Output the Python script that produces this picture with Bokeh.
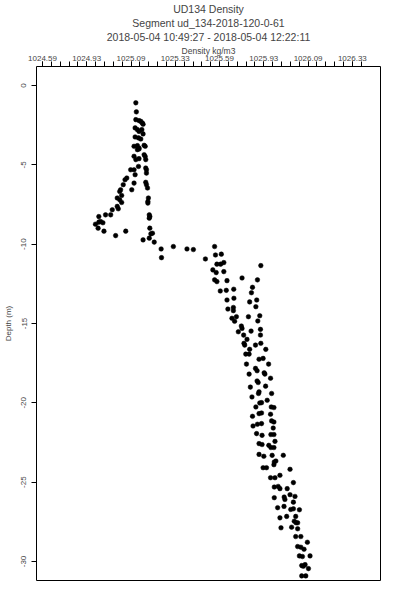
from bokeh.plotting import figure
from bokeh.models import ColumnDataSource, Range1d, FixedTicker, Title
from bokeh.embed import file_html
from bokeh.resources import INLINE

title_lines = ["UD134 Density", "Segment ud_134-2018-120-0-61",
               "2018-05-04 10:49:27 - 2018-05-04 12:22:11"]
x_label = "Density kg/m3"
y_label = "Depth (m)"

x_ticks = [1024.59, 1024.84, 1025.09, 1025.34, 1025.59, 1025.84, 1026.09, 1026.34]
x_tick_labels = ["1024.59", "1024.93", "1025.09", "1025.33", "1025.59", "1025.93", "1026.09", "1026.33"]
x_minor_ticks = [round(1024.59 + 0.05 * k, 2) for k in range(37)]
y_ticks = [0, -5, -10, -15, -20, -25, -30]
y_tick_labels = ["0", "-5", "-10", "-15", "-20", "-25", "-30"]

density = [
    1025.117, 1025.120, 1025.117, 1025.135, 1025.145, 1025.154, 1025.158, 1025.113, 1025.126, 1025.151,
    1025.135, 1025.158, 1025.113, 1025.132, 1025.145, 1025.107, 1025.126, 1025.135, 1025.164, 1025.170,
    1025.126, 1025.135, 1025.107, 1025.117, 1025.135, 1025.164, 1025.170, 1025.173, 1025.132, 1025.107,
    1025.088, 1025.173, 1025.177, 1025.177, 1025.113, 1025.066, 1025.056, 1025.046, 1025.107, 1025.173,
    1025.177, 1025.183, 1025.031, 1025.026, 1025.094, 1025.037, 1025.012, 1025.026, 1025.037, 1025.188,
    1025.185, 1025.185, 1025.012, 1025.018, 1024.984, 1024.946, 1024.975, 1024.908, 1025.193, 1025.196,
    1025.193, 1024.918, 1024.908, 1024.931, 1024.889, 1024.904, 1024.937, 1025.196, 1025.211, 1025.202,
    1025.003, 1025.060, 1025.158, 1025.193, 1025.221, 1025.260, 1025.329, 1025.406, 1025.442, 1025.262,
    1025.562, 1025.567, 1025.600, 1025.510,
    1025.575, 1025.596, 1025.614, 1025.552, 1025.571, 1025.614, 1025.823, 1025.562, 1025.575, 1025.632,
    1025.717, 1025.804, 1025.594, 1025.628, 1025.670, 1025.776, 1025.770, 1025.632, 1025.671, 1025.760,
    1025.800, 1025.637, 1025.668, 1025.668, 1025.795, 1025.817, 1025.660, 1025.685, 1025.753, 1025.675,
    1025.806, 1025.713, 1025.717, 1025.696, 1025.768, 1025.821, 1025.821, 1025.726, 1025.745, 1025.728,
    1025.732, 1025.793, 1025.823, 1025.760, 1025.851, 1025.738, 1025.757, 1025.813, 1025.836, 1025.742,
    1025.793, 1025.802, 1025.867, 1025.757, 1025.842, 1025.846, 1025.878, 1025.802, 1025.808, 1025.764,
    1025.850, 1025.813, 1025.810, 1025.884, 1025.773, 1025.859, 1025.817, 1025.827, 1025.795, 1025.882,
    1025.897, 1025.813, 1025.827, 1025.776, 1025.878, 1025.884, 1025.897, 1025.779, 1025.804, 1025.827,
    1025.893, 1025.799, 1025.830, 1025.880, 1025.897, 1025.813, 1025.830, 1025.868, 1025.880, 1025.897,
    1025.903,
    1025.813, 1025.840, 1025.887, 1025.950, 1025.899, 1025.908, 1025.897, 1025.836, 1025.855, 1025.988,
    1025.878, 1025.903, 1025.931, 1026.007, 1025.899, 1025.921, 1025.931, 1025.972, 1025.988, 1026.016,
    1025.955, 1025.959, 1025.899, 1026.007, 1025.918, 1025.954, 1025.992, 1026.007, 1026.041, 1025.969,
    1026.020, 1025.931, 1026.012, 1026.022, 1026.031, 1025.997, 1025.937, 1026.031, 1026.020, 1026.049,
    1026.086, 1026.031, 1026.049, 1026.067, 1026.041, 1026.058, 1026.101, 1026.054, 1026.073, 1026.092,
    1026.063, 1026.054, 1026.077,
]
depth = [
    -1.09, -1.66, -2.15, -2.21, -2.26, -2.36, -2.44, -2.67, -2.78, -2.78,
    -2.89, -3.05, -3.24, -3.30, -3.37, -3.83, -3.79, -3.94, -3.77, -3.83,
    -4.04, -4.00, -4.46, -4.67, -4.61, -4.36, -4.47, -4.67, -5.10, -5.31,
    -5.31, -5.20, -5.31, -5.52, -5.62, -5.83, -5.94, -6.25, -6.15, -6.10,
    -6.25, -6.46, -6.57, -6.68, -6.57, -6.93, -7.09, -7.20, -7.37, -7.09,
    -7.31, -7.41, -7.62, -7.77, -7.83, -8.15, -8.15, -8.26, -8.15, -8.26,
    -8.36, -8.57, -8.61, -8.65, -8.74, -8.99, -9.18, -8.99, -9.31, -9.35,
    -9.46, -9.18, -9.73, -9.62, -9.87, -10.30, -10.15, -10.30, -10.34, -10.85,
    -10.15, -10.68, -10.63, -10.93,
    -11.26, -11.26, -11.16, -11.62, -11.79, -11.73, -11.35, -12.25, -12.36, -12.30,
    -12.13, -12.25, -12.95, -12.91, -12.84, -12.72, -13.06, -13.52, -13.41, -13.64,
    -13.52, -14.09, -13.99, -14.19, -13.94, -14.51, -14.67, -14.57, -14.57, -14.86,
    -14.84, -15.16, -15.31, -15.52, -15.48, -15.37, -15.73, -15.73, -16.00, -16.25,
    -16.36, -16.36, -16.25, -16.63, -16.63, -16.93, -16.93, -17.25, -17.20, -17.56,
    -17.83, -17.98, -17.56, -18.19, -18.11, -18.19, -18.45, -18.62, -18.72, -19.01,
    -18.95, -19.31, -19.41, -19.41, -19.63, -19.84, -20.01, -19.99, -20.26, -20.26,
    -20.30, -20.68, -20.64, -20.85, -20.72, -21.14, -21.21, -21.46, -21.35, -21.31,
    -21.59, -21.94, -22.05, -22.00, -22.00, -22.57, -22.63, -22.68, -22.82, -22.82,
    -22.43,
    -23.25, -23.37, -23.31, -23.31, -23.73, -23.67, -23.90, -24.09, -24.09, -24.19,
    -24.72, -24.72, -24.57, -25.03, -25.31, -25.27, -25.41, -25.41, -25.79, -25.90,
    -25.94, -26.09, -25.98, -26.26, -26.61, -26.53, -26.72, -26.68, -26.74, -27.16,
    -27.16, -27.25, -27.46, -27.56, -27.56, -27.84, -27.88, -27.94, -28.43, -28.43,
    -28.79, -29.06, -29.10, -29.23, -29.65, -29.69, -29.65, -30.26, -30.20, -30.45,
    -30.30, -30.91, -30.91,
]

FONT = "Liberation Sans"

source = ColumnDataSource(data=dict(density=density, depth=depth))

p = figure(width=392, height=592, output_backend="svg", toolbar_location=None,
           x_axis_location="above", title=None,
           x_range=Range1d(1024.556, 1026.499), y_range=Range1d(-31.2, 1.2),
           min_border_left=30, min_border_right=12, min_border_bottom=12, min_border_top=9)

p.scatter(x="density", y="depth", source=source, size=4.6, marker="circle",
          fill_color="black", line_color="black", line_width=0.5)

p.xgrid.visible = False
p.ygrid.visible = False
p.outline_line_color = "black"
p.outline_line_width = 1
p.background_fill_color = "white"
p.border_fill_color = "white"

xa = p.xaxis[0]
xa.ticker = FixedTicker(ticks=x_ticks, minor_ticks=x_minor_ticks)
xa.major_label_overrides = {t: l for t, l in zip(x_ticks, x_tick_labels)}
xa.axis_label = x_label
xa.axis_label_text_font = FONT
xa.axis_label_text_font_size = "8.5px"
xa.axis_label_text_font_style = "normal"
xa.axis_label_standoff = -3
xa.major_label_text_font = FONT
xa.major_label_text_font_size = "8px"
xa.major_label_standoff = 1
xa.axis_line_color = None
xa.major_tick_out = 5
xa.major_tick_in = 0
xa.minor_tick_out = 5
xa.minor_tick_in = 0
xa.major_tick_line_color = "black"
xa.minor_tick_line_color = "black"

ya = p.yaxis[0]
ya.ticker = FixedTicker(ticks=y_ticks, minor_ticks=[])
ya.major_label_overrides = {t: l for t, l in zip(y_ticks, y_tick_labels)}
ya.major_label_orientation = "vertical"
ya.axis_label = y_label
ya.axis_label_text_font = FONT
ya.axis_label_text_font_size = "8px"
ya.axis_label_text_font_style = "normal"
ya.axis_label_standoff = 6
ya.major_label_text_font = FONT
ya.major_label_text_font_size = "8px"
ya.major_label_standoff = 5
ya.axis_line_color = None
ya.major_tick_out = 5
ya.major_tick_in = 0
ya.minor_tick_line_color = None
ya.major_tick_line_color = "black"

for line in reversed(title_lines):
    p.add_layout(Title(text=line, align="center", text_font=FONT, text_font_size="10.5px",
                       text_font_style="normal", standoff=0, offset=0), "above")

open("out.html", "w").write(file_html(p, INLINE))
